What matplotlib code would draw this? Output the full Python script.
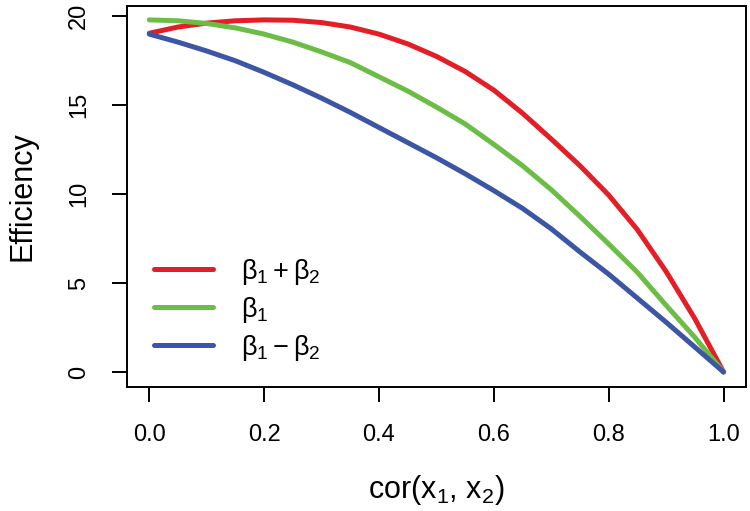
import numpy as np
import matplotlib
matplotlib.use("Agg")
import matplotlib.pyplot as plt
from matplotlib.ticker import FormatStrFormatter

# values, correlation steps of 0.05
cor = np.linspace(0, 1, 21)
eff_sum = [19.05, 19.4, 19.62, 19.75, 19.8, 19.78, 19.65, 19.4, 19.0, 18.45, 17.75,
           16.9, 15.85, 14.55, 13.1, 11.6, 9.95, 8.0, 5.65, 3.0, 0.0]
eff_b1 = [19.8, 19.75, 19.6, 19.35, 19.0, 18.55, 18.0, 17.4, 16.6, 15.8, 14.9,
          13.95, 12.8, 11.6, 10.25, 8.75, 7.2, 5.6, 3.75, 1.95, 0.0]
eff_diff = [19.0, 18.55, 18.05, 17.5, 16.85, 16.15, 15.4, 14.6, 13.75, 12.9, 12.05,
            11.15, 10.2, 9.2, 8.05, 6.75, 5.5, 4.15, 2.8, 1.4, 0.0]
labels = [r'$\mathrm{\beta_1 + \beta_2}$', r'$\mathrm{\beta_1}$', r'$\mathrm{\beta_1 - \beta_2}$']
colors = ['#e41e26', '#6cbd45', '#3c55a5']

plt.rcParams['font.family'] = ['Liberation Sans', 'DejaVu Sans']
plt.rcParams['mathtext.fontset'] = 'custom'
plt.rcParams['mathtext.rm'] = 'Liberation Sans'
plt.rcParams['mathtext.it'] = 'Liberation Sans:italic'
plt.rcParams['mathtext.sf'] = 'Liberation Sans'

fig = plt.figure(figsize=(7.5, 5.11), dpi=100)
ax = fig.add_axes([0.1693, 0.2432, 0.8251, 0.7457])

for series, col, lab in zip([eff_sum, eff_b1, eff_diff], colors, labels):
    ax.plot(cor, series, color=col, lw=3.6, solid_capstyle='round',
            solid_joinstyle='round', label=lab)

ax.set_xlim(-0.0389, 1.0388)
ax.set_ylim(-0.83, 20.6)
ax.set_xticks([0, 0.2, 0.4, 0.6, 0.8, 1.0])
ax.set_yticks([0, 5, 10, 15, 20])
ax.xaxis.set_major_formatter(FormatStrFormatter('%.1f'))

for sp in ax.spines.values():
    sp.set_linewidth(1.4)
ax.tick_params(direction='out', length=10.8, width=1.4, labelsize=17)
ax.tick_params(axis='x', pad=16)
ax.tick_params(axis='y', pad=16, labelrotation=90)
for t in ax.get_yticklabels():
    t.set_va('center')

ax.set_xlabel(r'cor(x$_1$, x$_2$)', fontsize=22)
ax.set_ylabel('Efficiency', fontsize=22)
ax.xaxis.label.set_va('center')
ax.yaxis.label.set_va('center')
ax.xaxis.set_label_coords(0.5, -0.271)
ax.yaxis.set_label_coords(-0.169, 0.5)

ax.legend(loc='upper left', bbox_to_anchor=(0.026, 0.37), frameon=False, fontsize=19.5,
          handlelength=2.2, handletextpad=1.0, labelspacing=0.3, borderaxespad=0)

plt.savefig('out.png', dpi=100)
